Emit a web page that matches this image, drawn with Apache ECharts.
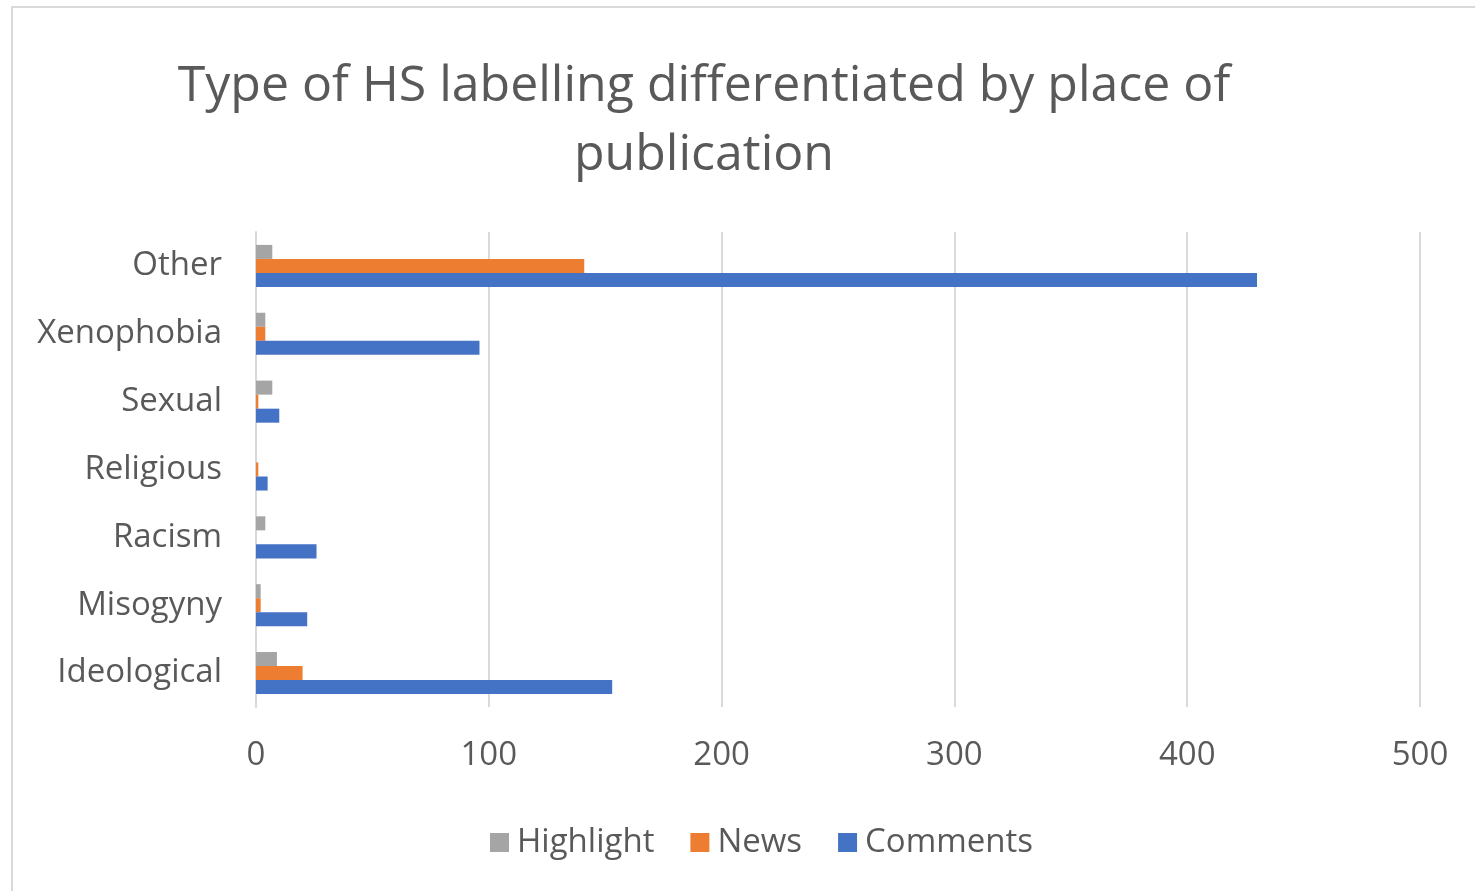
<!DOCTYPE html>
<html>
<head>
<meta charset="utf-8">
<script src="https://cdn.jsdelivr.net/npm/echarts@6/dist/echarts.min.js"></script>
<style>
  html, body { margin: 0; padding: 0; background: #ffffff; }
  #chart { width: 1475px; height: 891px; }
</style>
</head>
<body>
<div id="chart"></div>
<script>
// Categories listed bottom-to-top for the horizontal category axis
const categories = ['Ideological', 'Misogyny', 'Racism', 'Religious', 'Sexual', 'Xenophobia', 'Other'];
const highlightValues = [9, 2, 4, 0, 7, 4, 7];
const newsValues = [20, 2, 0, 1, 1, 4, 141];
const commentsValues = [153, 22, 26, 5, 10, 96, 430];
const xTicks = [0, 100, 200, 300, 400, 500];

const FONT = '"Open Sans", "Noto Sans", sans-serif';
const TEXT = '#595959';

const chart = echarts.init(document.getElementById('chart'));
chart.setOption({
  animation: false,
  backgroundColor: '#ffffff',
  title: {
    text: 'Type of HS labelling differentiated by place of\npublication',
    left: 699,
    top: 47,
    textAlign: 'center',
    textStyle: { fontFamily: FONT, fontSize: 50, fontWeight: 'normal', color: TEXT, lineHeight: 69 }
  },
  graphic: [{
    type: 'rect',
    shape: { x: 12, y: 7, width: 1500, height: 900 },
    style: { fill: 'none', stroke: '#d9d9d9', lineWidth: 2 },
    silent: true
  }],
  legend: {
    data: ['Highlight', 'News', 'Comments'],
    left: 485,
    top: 821,
    itemWidth: 19,
    itemHeight: 19,
    itemGap: 36,
    icon: 'rect',
    textStyle: { fontFamily: FONT, fontSize: 33, color: TEXT, padding: [0, 0, 0, 3] }
  },
  grid: { left: 256, right: 55, top: 232, bottom: 184, containLabel: false },
  xAxis: {
    type: 'value',
    min: xTicks[0],
    max: xTicks[xTicks.length - 1],
    interval: 100,
    axisLine: { show: false },
    axisTick: { show: false },
    splitLine: { show: true, lineStyle: { color: '#d9d9d9', width: 2 } },
    axisLabel: { fontFamily: FONT, fontSize: 33, color: TEXT, margin: 32 }
  },
  yAxis: {
    type: 'category',
    data: categories,
    axisLine: { show: true, lineStyle: { color: '#d9d9d9', width: 2 } },
    axisTick: { show: false },
    axisLabel: { fontFamily: FONT, fontSize: 33, color: TEXT, margin: 34, padding: [4, 0, 0, 0] }
  },
  series: [
    { name: 'Highlight', type: 'bar', data: highlightValues, itemStyle: { color: '#a5a5a5' }, barGap: '0%', barCategoryGap: '38%' },
    { name: 'News', type: 'bar', data: newsValues, itemStyle: { color: '#ed7d31' }, barGap: '0%', barCategoryGap: '38%' },
    { name: 'Comments', type: 'bar', data: commentsValues, itemStyle: { color: '#4472c4' }, barGap: '0%', barCategoryGap: '38%' }
  ]
});
</script>
</body>
</html>
